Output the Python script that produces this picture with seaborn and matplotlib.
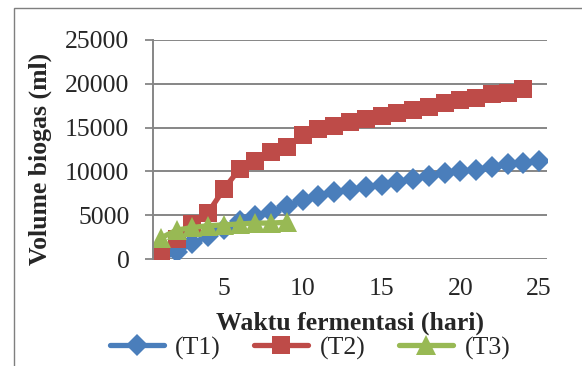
import numpy as np
import pandas as pd
import matplotlib
matplotlib.use("Agg")
import matplotlib.pyplot as plt
from matplotlib.patches import Rectangle
import seaborn as sns

# ── Data ─────────────────────────────────────────────────────────────────────
t1_vol = [300, 800, 1800, 2600, 3400, 4300, 4900, 5400, 6000, 6700,
          7200, 7600, 7900, 8200, 8500, 8800, 9100, 9500, 9800, 10000,
          10200, 10500, 10800, 11000, 11200]
t2_vol = [600, 2300, 4000, 5300, 8000, 10300, 11200, 12200, 12800, 14200,
          14800, 15200, 15600, 16000, 16300, 16700, 17000, 17400, 17800, 18100,
          18400, 18800, 19000, 19400]
t3_vol = [2400, 3300, 3600, 3800, 3900, 4000, 4100, 4100, 4200]
series_names = ["(T1)", "(T2)", "(T3)"]
x_ticks = [5, 10, 15, 20, 25]
y_ticks = [0, 5000, 10000, 15000, 20000, 25000]

colors  = ["#4A7EBB", "#BE4B48", "#98B954"]
markers = ["D", "s", "^"]
msizes  = [11, 13, 15]

frames = []
for name, vals in zip(series_names, [t1_vol, t2_vol, t3_vol]):
    frames.append(pd.DataFrame({"hari": np.arange(1, len(vals) + 1),
                                "volume": vals, "seri": name}))
df = pd.concat(frames, ignore_index=True)

sns.set_style("white")
plt.rcParams["font.family"] = ["Liberation Serif", "DejaVu Serif"]
fs = 18.5

fig = plt.figure(figsize=(5.82, 3.66), dpi=100)
ax = fig.add_axes([153/582, 1 - 259/366, 394/582, 219/366])

for name, c, m, ms in zip(series_names, colors, markers, msizes):
    sns.lineplot(data=df[df["seri"] == name], x="hari", y="volume", ax=ax,
                 color=c, marker=m, markersize=ms, markeredgewidth=0,
                 linewidth=3.8, label=name)

ax.set_xlim(0.5, 25.5)
ax.set_ylim(0, 25000)
ax.set_xticks(x_ticks)
ax.set_yticks(y_ticks)
ax.tick_params(axis="x", length=0, pad=14, labelsize=fs)
ax.tick_params(axis="y", length=6, width=1.3, color="#868686", pad=11,
               labelsize=fs, left=True)
ax.grid(axis="y", color="#868686", lw=1.4)
ax.grid(axis="x", visible=False)
for s in ["top", "right", "bottom"]:
    ax.spines[s].set_visible(False)
ax.spines["left"].set_color("#868686")
ax.spines["left"].set_linewidth(1.4)

ax.set_xlabel("Waktu fermentasi (hari)", fontsize=fs, fontweight="bold")
ax.set_ylabel("Volume biogas (ml)", fontsize=fs, fontweight="bold")
ax.xaxis.set_label_coords(0.5, (259 - 323) / 219)
ax.xaxis.label.set_va("center")
ax.yaxis.set_label_coords((40 - 153) / 394, (259 - 159) / 219)
ax.yaxis.label.set_va("center")

handles, labels = ax.get_legend_handles_labels()
ax.get_legend().remove()
fig.legend(handles, labels, loc="center", bbox_to_anchor=(310/582, 1 - 348/366),
           ncol=3, frameon=False, fontsize=fs, handlelength=2.1,
           handletextpad=0.45, columnspacing=1.3, borderpad=0)

# chart-area border (left and top edges visible in the crop)
fig.patches.append(Rectangle((14/582, -0.2), 1.2, 1.2 - 8/366,
                             transform=fig.transFigure, fill=False,
                             edgecolor="#7F7F7F", lw=1.0))

fig.savefig("out.png", dpi=100)
